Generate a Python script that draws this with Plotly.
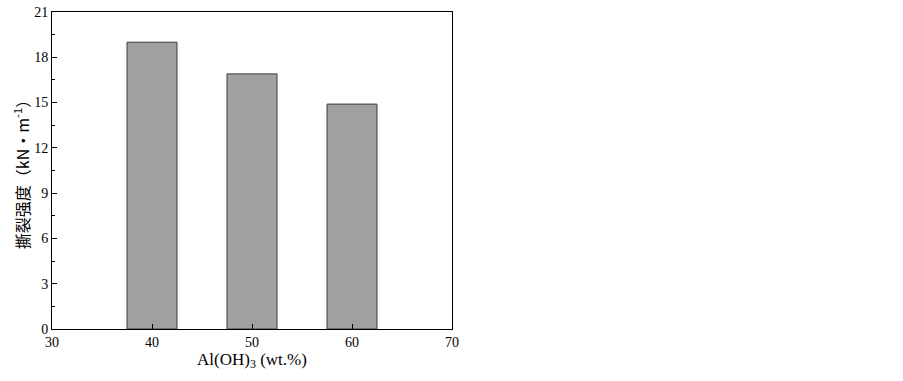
import plotly.graph_objects as go

categories = [40, 50, 60]
tear_strength = [19.0, 16.9, 14.9]
x_ticks = [30, 40, 50, 60, 70]
y_ticks = [0, 3, 6, 9, 12, 15, 18, 21]

serif = "Liberation Serif, Times New Roman, Noto Sans CJK SC, serif"

fig = go.Figure()
fig.add_trace(go.Bar(
    x=categories, y=tear_strength, width=5,
    marker=dict(color="#a0a0a0", line=dict(color="#3a3a3a", width=1)),
))

fig.update_layout(
    width=903, height=381,
    margin=dict(l=52, r=451, t=12, b=52),
    paper_bgcolor="white", plot_bgcolor="white",
    showlegend=False,
    font=dict(family=serif, size=14, color="black"),
    xaxis=dict(
        range=[30, 70], tickvals=x_ticks, ticks="inside", ticklen=5,
        tickcolor="black", showline=True, linecolor="black", linewidth=1,
        mirror=True, showgrid=False, zeroline=False, automargin=False,
        title=dict(text="Al(OH)<sub>3</sub> (wt.%)", font=dict(size=17, family=serif), standoff=3),
    ),
    yaxis=dict(
        range=[0, 21], tickvals=y_ticks, ticks="inside", ticklen=5,
        tickcolor="black", showline=True, linecolor="black", linewidth=1,
        mirror=True, showgrid=False, zeroline=False, automargin=False,
        minor=dict(tickvals=[1.5, 4.5, 7.5, 10.5, 13.5, 16.5, 19.5], ticks="inside", ticklen=3, tickcolor="black"),
        title=dict(text="撕裂强度（kN•m<sup>-1</sup>）", font=dict(size=16, family="Noto Sans CJK SC, Liberation Serif"), standoff=0),
    ),
    annotations=[dict(
        text="(d)", x=427, y=19.8, xref="x", yref="y", showarrow=False,
        font=dict(size=15, family=serif),
    )],
)

fig.write_html(
    "out.html",
    config={"displayModeBar": False},
    post_script="document.body.style.margin='0';document.body.style.overflow='hidden';",
)
